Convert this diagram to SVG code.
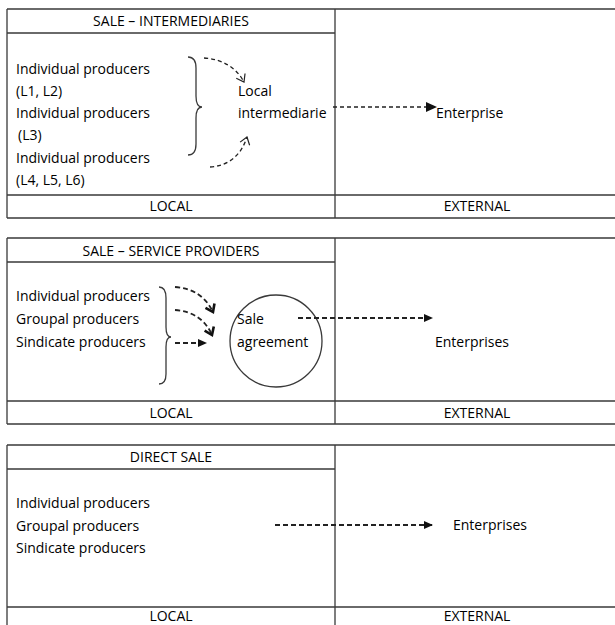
<svg xmlns="http://www.w3.org/2000/svg" width="615" height="625" viewBox="0 0 615 625">
<style>
.ln{stroke:#3a3a3a;stroke-width:1.3;fill:none}
.t{font-family:"Open Sans","Liberation Sans",Arial,sans-serif;font-size:14px;fill:#000}
.c{text-anchor:middle}
.d{stroke:#222;stroke-width:1.3;fill:none;stroke-dasharray:4 3}
.d2{stroke:#222;stroke-width:1.8;fill:none;stroke-dasharray:5 3}
</style>
<defs>
<marker id="open" markerWidth="12" markerHeight="12" refX="9" refY="6" orient="auto" markerUnits="userSpaceOnUse">
<path d="M2,1 L9,6 L2,11" fill="none" stroke="#222" stroke-width="1.2"/>
</marker>
<marker id="bold" markerWidth="12" markerHeight="12" refX="9" refY="6" orient="auto" markerUnits="userSpaceOnUse">
<path d="M2,1 L9,6 L2,11" fill="none" stroke="#111" stroke-width="2.6"/>
</marker>
<marker id="tri" markerWidth="12" markerHeight="12" refX="11" refY="6" orient="auto" markerUnits="userSpaceOnUse">
<path d="M0,1 L11,6 L0,11 Z" fill="#111"/>
</marker>
<marker id="tris" markerWidth="10" markerHeight="10" refX="9" refY="5" orient="auto" markerUnits="userSpaceOnUse">
<path d="M0,1 L9,5 L0,9 Z" fill="#111"/>
</marker>
</defs>

<g id="table1">
<path class="ln" d="M7,9 H615 M7,33 H335 M7,195 H615 M7,218 H615 M7,9 V218 M335,9 V218"/>
<text class="t c" x="171" y="26">SALE – INTERMEDIARIES</text>
<text class="t c" x="171" y="211">LOCAL</text>
<text class="t c" x="477" y="211">EXTERNAL</text>
</g>
<g id="producers1">
<text class="t" x="16" y="74">Individual producers</text>
<text class="t" x="16" y="96">(L1, L2)</text>
<text class="t" x="16" y="118">Individual producers</text>
<text class="t" x="18" y="140">(L3)</text>
<text class="t" x="16" y="163">Individual producers</text>
<text class="t" x="16" y="185">(L4, L5, L6)</text>
<path class="ln" d="M188,57 Q196,57 196,68 L196,96 Q196,107 202,107 Q196,107 196,118 L196,144 Q196,155 188,155"/>
</g>
<g id="local-intermediarie">
<text class="t" x="238" y="96">Local</text>
<text class="t" x="238" y="118">intermediarie</text>
</g>
<g id="enterprise1">
<text class="t" x="436" y="118">Enterprise</text>
</g>

<g id="table2">
<path class="ln" d="M7,238 H615 M7,262 H335 M7,401 H615 M7,424 H615 M7,238 V424 M335,238 V424"/>
<text class="t c" x="171" y="256">SALE – SERVICE PROVIDERS</text>
<text class="t c" x="171" y="418">LOCAL</text>
<text class="t c" x="477" y="418">EXTERNAL</text>
</g>
<g id="producers2">
<text class="t" x="16" y="301">Individual producers</text>
<text class="t" x="16" y="324">Groupal producers</text>
<text class="t" x="16" y="347">Sindicate producers</text>
<path class="ln" d="M159,287 Q166,287 166,298 L166,327 Q166,337 171,337 Q166,337 166,347 L166,374 Q166,384 159,384"/>
</g>
<g id="sale-agreement">
<circle class="ln" cx="276" cy="341" r="46"/>
<text class="t" x="237" y="324">Sale</text>
<text class="t" x="237" y="347">agreement</text>
</g>
<g id="enterprises2">
<text class="t" x="435" y="347">Enterprises</text>
</g>

<g id="table3">
<path class="ln" d="M7,445 H615 M7,469 H335 M7,607 H615 M7,445 V625 M335,445 V625"/>
<text class="t c" x="171" y="462">DIRECT SALE</text>
<text class="t c" x="171" y="621">LOCAL</text>
<text class="t c" x="477" y="621">EXTERNAL</text>
</g>
<g id="producers3">
<text class="t" x="16" y="508">Individual producers</text>
<text class="t" x="16" y="531">Groupal producers</text>
<text class="t" x="16" y="553">Sindicate producers</text>
</g>
<g id="enterprises3">
<text class="t" x="453" y="530">Enterprises</text>
</g>

<g id="connectors">
<path class="d" d="M204,58 Q232,60 244,82" marker-end="url(#open)"/>
<path class="d" d="M210,167 Q238,165 247,137" marker-end="url(#open)"/>
<path class="d" d="M333,107 L437,107" marker-end="url(#tri)"/>
<path class="d2" d="M175,287 Q202,289 213,312" marker-end="url(#bold)"/>
<path class="d2" d="M175,310 Q202,312 212,335" marker-end="url(#bold)"/>
<path class="d2" d="M175,343 L207,343" marker-end="url(#tris)"/>
<path class="d2" d="M298,318 L433,318" marker-end="url(#tris)"/>
<path class="d2" d="M275,525 L433,525" marker-end="url(#tris)"/>
</g>
</svg>
